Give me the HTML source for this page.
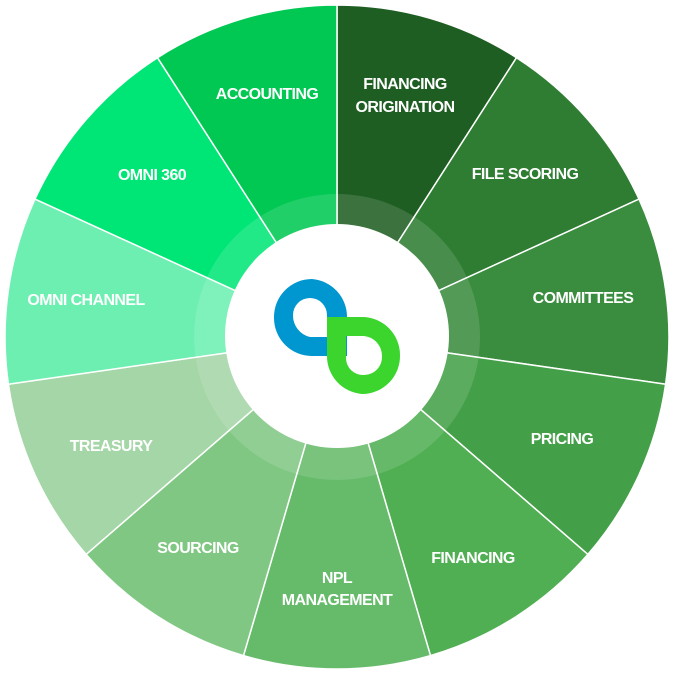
<!DOCTYPE html>
<html><head><style>
html,body{margin:0;padding:0;background:#fff;width:675px;height:675px;overflow:hidden}
svg text{font-family:"Liberation Sans",sans-serif;font-weight:bold;font-size:16px;fill:#fff;text-anchor:middle;letter-spacing:-0.6px}
</style></head><body>
<svg width="675" height="675" viewBox="0 0 675 675" xmlns="http://www.w3.org/2000/svg">
<g stroke="#fff" stroke-width="1.5">
<path d="M337,337 L337,5 A332,332 0 0 1 516.5,57.7 Z" fill="#1e5e22"/>
<path d="M337,337 L516.5,57.7 A332,332 0 0 1 639,199.1 Z" fill="#2e7d32"/>
<path d="M337,337 L639,199.1 A332,332 0 0 1 665.6,384.2 Z" fill="#3a8c3e"/>
<path d="M337,337 L665.6,384.2 A332,332 0 0 1 587.9,554.4 Z" fill="#44a048"/>
<path d="M337,337 L587.9,554.4 A332,332 0 0 1 430.5,655.6 Z" fill="#50af52"/>
<path d="M337,337 L430.5,655.6 A332,332 0 0 1 243.5,655.6 Z" fill="#66bb6a"/>
<path d="M337,337 L243.5,655.6 A332,332 0 0 1 86.1,554.4 Z" fill="#81c784"/>
<path d="M337,337 L86.1,554.4 A332,332 0 0 1 8.4,384.2 Z" fill="#a5d6a7"/>
<path d="M337,337 L8.4,384.2 A332,332 0 0 1 35,199.1 Z" fill="#6cefb0"/>
<path d="M337,337 L35,199.1 A332,332 0 0 1 157.5,57.7 Z" fill="#00e676"/>
<path d="M337,337 L157.5,57.7 A332,332 0 0 1 337,5 Z" fill="#00c853"/>
</g>
<circle cx="337" cy="337" r="143" fill="#fff" fill-opacity="0.13"/>
<circle cx="337" cy="336" r="112" fill="#fff"/>
<path fill="#0096d0" fill-rule="evenodd" d="M312,279 A38,38 0 0 1 347,317 L347,356 L312,356 A38,38 0 0 1 274,318 A38,38 0 0 1 312,279 Z M310,298 A17,17 0 0 0 293,315 A22,22 0 0 0 310,337 L327,337 L327,315 A17,17 0 0 0 310,298 Z"/>
<path fill="#3cd52e" fill-rule="evenodd" d="M327,317 L362,317 A38,38 0 0 1 400,355 A38,38 0 0 1 362,394 A38,38 0 0 1 327,356 Z M346,336 L346,358 A17,17 0 0 0 364,375 A18,18 0 0 0 382,356 A20,20 0 0 0 364,336 Z"/>
<text x="267" y="99">ACCOUNTING</text>
<text x="405" y="89">FINANCING</text>
<text x="405" y="112">ORIGINATION</text>
<text x="525" y="179">FILE SCORING</text>
<text x="583" y="303">COMMITTEES</text>
<text x="562" y="444">PRICING</text>
<text x="473" y="563">FINANCING</text>
<text x="337" y="583">NPL</text>
<text x="337" y="605">MANAGEMENT</text>
<text x="198" y="553">SOURCING</text>
<text x="111" y="451">TREASURY</text>
<text x="86" y="305">OMNI CHANNEL</text>
<text x="152" y="180">OMNI 360</text>
</svg>
</body></html>
